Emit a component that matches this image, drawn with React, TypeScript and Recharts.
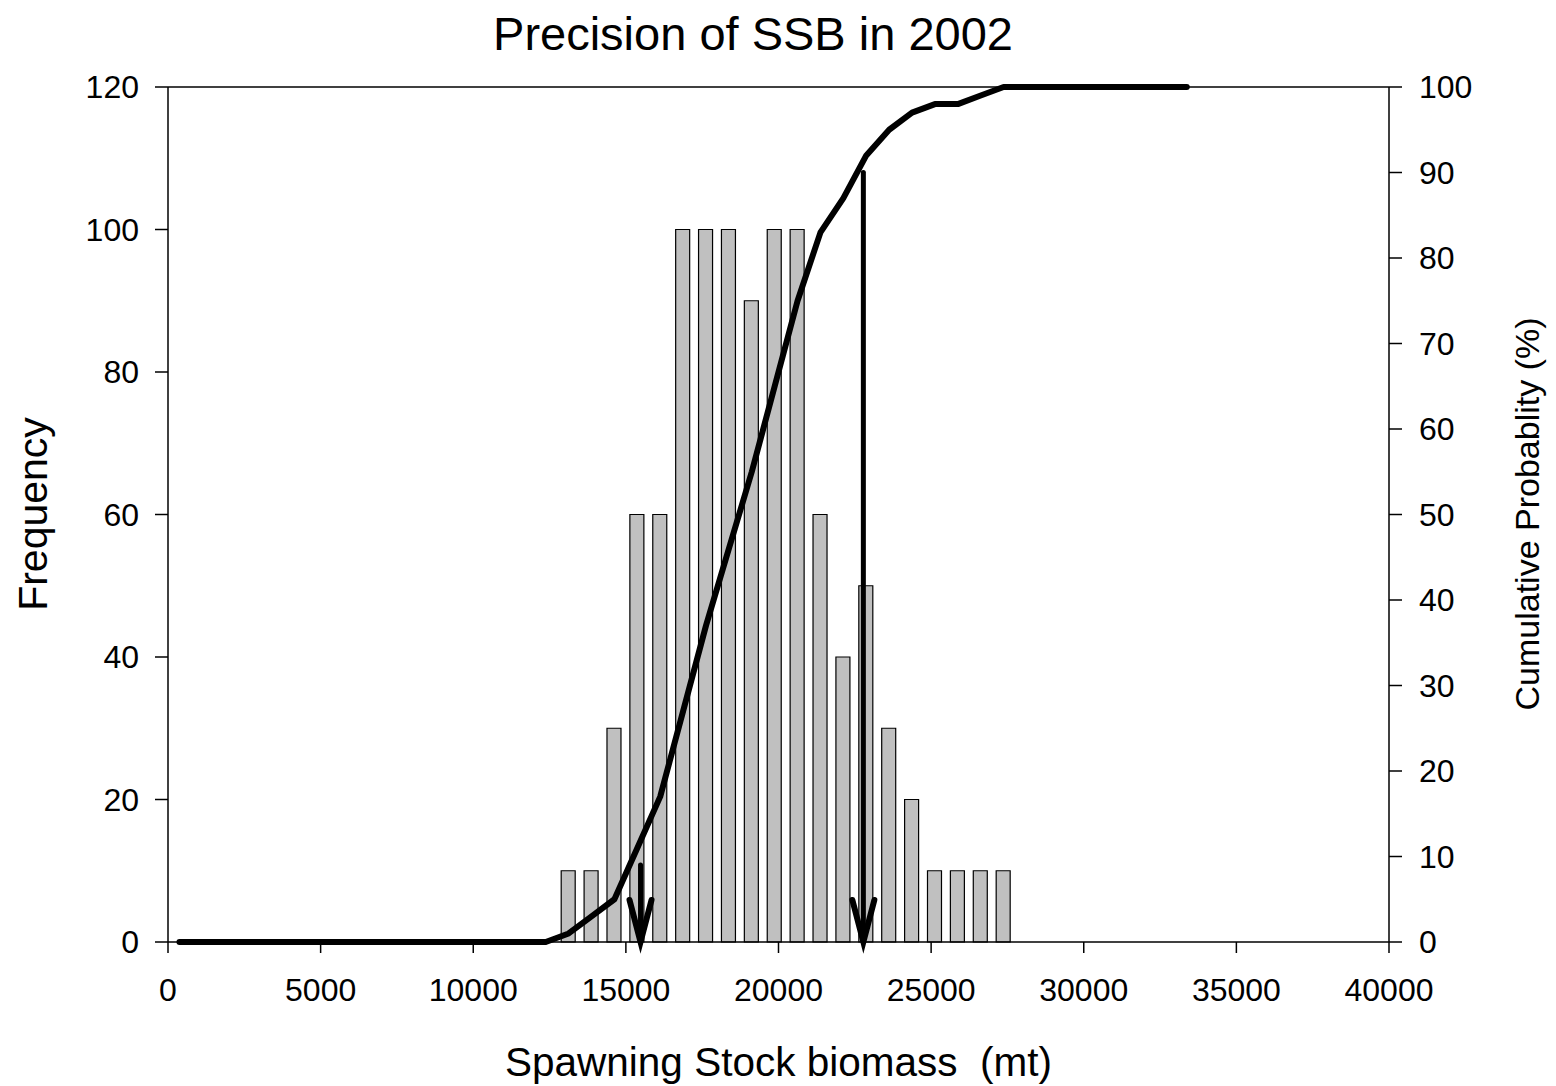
import React from 'react';
import {
  ComposedChart, Bar, Line, XAxis, YAxis, ReferenceLine,
} from 'recharts';

// histogram bins (centre of each 750 mt bin) and counts
const binCentres = [
  13125, 13875, 14625, 15375, 16125, 16875, 17625, 18375, 19125, 19875,
  20625, 21375, 22125, 22875, 23625, 24375, 25125, 25875, 26625, 27375,
];
const frequency = [
  10, 10, 30, 60, 60, 100, 100, 100, 90, 100,
  100, 60, 40, 50, 30, 20, 10, 10, 10, 10,
];

// cumulative probability (%) read at each bin centre
const cumX = [
  375, 1125, 1875, 2625, 3375, 4125, 4875, 5625, 6375, 7125, 7875, 8625,
  9375, 10125, 10875, 11625, 12375, 13125, 13875, 14625, 15375, 16125,
  16875, 17625, 18375, 19125, 19875, 20625, 21375, 22125, 22875, 23625,
  24375, 25125, 25875, 26625, 27375, 28125, 28875, 29625, 30375, 31125,
  31875, 32625, 33375,
];
const cumPct = [
  0, 0, 0, 0, 0, 0, 0, 0, 0, 0, 0, 0,
  0, 0, 0, 0, 0, 1, 3, 5, 11, 17,
  27, 37, 46, 55, 65, 75, 83, 87, 92, 95,
  97, 98, 98, 99, 100, 100, 100, 100, 100, 100,
  100, 100, 100,
];

// percentile arrows: x position and top (in %)
const arrowX = [15480, 22780];
const arrowTop = [9, 90];

const xTicks = [0, 5000, 10000, 15000, 20000, 25000, 30000, 35000, 40000];
const freqTicks = [0, 20, 40, 60, 80, 100, 120];
const pctTicks = [0, 10, 20, 30, 40, 50, 60, 70, 80, 90, 100];

const FONT = '"Liberation Sans", Arial, sans-serif';

const W = 1540;
const H = 1078;

function ArrowHead(props: any) {
  const { cx, cy, index } = props;
  if (index !== 1 || cx == null || cy == null) return <g key={`ah-${index}`} />;
  return (
    <path
      key={`ah-${index}`}
      d={`M${cx - 11},${cy - 42} L${cx},${cy} L${cx + 11},${cy - 42}`}
      fill="none"
      stroke="#000"
      strokeWidth={6}
      strokeLinecap="round"
      strokeLinejoin="miter"
    />
  );
}

export default function App() {
  const barData = binCentres.map((x, i) => ({ x, freq: frequency[i] }));
  const cumData = cumX.map((x, i) => ({ x, pct: cumPct[i] }));
  const arrows = arrowX.map((x, i) => [
    { x, pct: arrowTop[i] },
    { x, pct: 0 },
  ]);

  const tickStyle = { fontSize: 32, fill: '#000', fontFamily: FONT };
  const axisStroke = { stroke: '#000', strokeWidth: 1.5 };

  return (
    <div style={{ position: 'relative', width: W, height: H, fontFamily: FONT }}>
      <ComposedChart
        width={W}
        height={H}
        data={barData}
        margin={{ top: 79, right: 0, bottom: 0, left: 0 }}
        barGap={0}
      >
        <XAxis
          dataKey="x"
          type="number"
          domain={[0, 40000]}
          ticks={xTicks}
          interval={0}
          height={144}
          tick={tickStyle}
          tickSize={11}
          tickMargin={25}
          axisLine={axisStroke}
          tickLine={axisStroke}
        />
        {/* hidden twin axis for the arrows so they don't shrink the bar band */}
        <XAxis
          xAxisId="arrows"
          dataKey="x"
          type="number"
          domain={[0, 40000]}
          hide
        />
        <YAxis
          yAxisId="f"
          orientation="left"
          domain={[0, 120]}
          ticks={freqTicks}
          interval={0}
          width={160}
          tick={tickStyle}
          tickSize={13}
          tickMargin={16}
          axisLine={axisStroke}
          tickLine={axisStroke}
        />
        <YAxis
          yAxisId="p"
          orientation="right"
          domain={[0, 100]}
          ticks={pctTicks}
          interval={0}
          width={159}
          tick={tickStyle}
          tickSize={13}
          tickMargin={17}
          axisLine={axisStroke}
          tickLine={axisStroke}
        />
        <ReferenceLine yAxisId="f" y={120} stroke="#000" strokeWidth={1.5} />

        <Bar
          yAxisId="f"
          dataKey="freq"
          barSize={14}
          fill="#c0c0c0"
          stroke="#000"
          strokeWidth={1.2}
          isAnimationActive={false}
        />

        <Line
          yAxisId="p"
          data={cumData}
          dataKey="pct"
          type="linear"
          stroke="#000"
          strokeWidth={6}
          strokeLinecap="round"
          strokeLinejoin="round"
          dot={false}
          activeDot={false}
          isAnimationActive={false}
        />

        {arrows.map((a, i) => (
          <Line
            key={`arrow-${i}`}
            xAxisId="arrows"
            yAxisId="p"
            data={a}
            dataKey="pct"
            type="linear"
            stroke="#000"
            strokeWidth={5}
            strokeLinecap="round"
            dot={ArrowHead}
            activeDot={false}
            isAnimationActive={false}
          />
        ))}
      </ComposedChart>

      <svg
        width={W}
        height={H}
        style={{ position: 'absolute', left: 0, top: 0, pointerEvents: 'none' }}
      >
        <text x={745} y={42} textAnchor="middle" fontSize={47} fontFamily={FONT} fill="#000">
          Precision of SSB in 2002
        </text>
        <text
          x={770.5}
          y={1068}
          textAnchor="middle"
          fontSize={40.5}
          fontFamily={FONT}
          fill="#000"
          style={{ whiteSpace: 'pre' }}
        >
          Spawning Stock biomass  (mt)
        </text>
        <text
          x={39}
          y={506}
          transform="rotate(-90, 39, 506)"
          textAnchor="middle"
          fontSize={41}
          fontFamily={FONT}
          fill="#000"
        >
          Frequency
        </text>
        <text
          x={1531}
          y={506}
          transform="rotate(-90, 1531, 506)"
          textAnchor="middle"
          fontSize={34}
          fontFamily={FONT}
          fill="#000"
        >
          Cumulative Probablity (%)
        </text>
      </svg>
    </div>
  );
}
